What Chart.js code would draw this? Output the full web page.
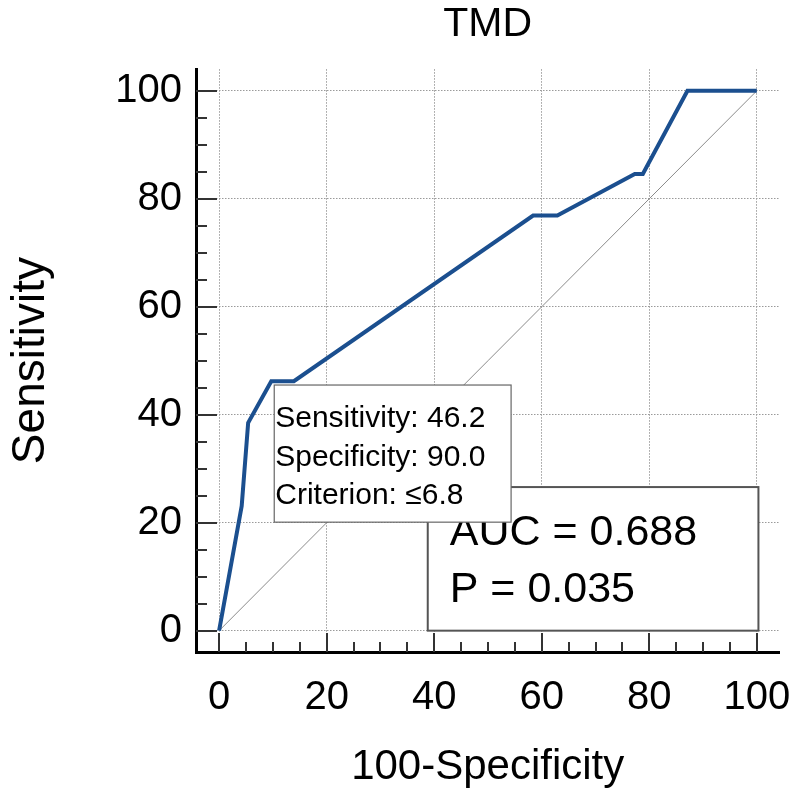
<!DOCTYPE html>
<html>
<head>
<meta charset="utf-8">
<script src="https://cdn.jsdelivr.net/npm/chart.js@4.4.1/dist/chart.umd.min.js"></script>
<style>
  html, body { margin: 0; padding: 0; background: #fff; }
  #wrap { width: 795px; height: 791px; }
</style>
</head>
<body>
<div id="wrap"><canvas id="roc"></canvas></div>
<script>
// ROC curve values
var fpr = [0, 4.2, 5.4, 9.7, 13.9, 58.4, 62.9, 77.3, 78.8, 87.1, 100];
var sens = [0, 23.1, 38.5, 46.2, 46.2, 76.9, 76.9, 84.6, 84.6, 100, 100];
var diagX = [0, 100];
var diagY = [0, 100];
var xTicks = [0, 20, 40, 60, 80, 100];
var yTicks = [0, 20, 40, 60, 80, 100];
var minorStep = 5;
var cutoffLines = ['Sensitivity: 46.2', 'Specificity: 90.0', 'Criterion: \u22646.8'];
var statLines = ['AUC = 0.688', 'P = 0.035'];

var FONT = '"Liberation Sans", Arial, sans-serif';

function pts(xs, ys) {
  return xs.map(function (x, i) { return { x: x, y: ys[i] }; });
}

// inward tick marks + the two text boxes
var extras = {
  id: 'extras',
  afterDraw: function (chart) {
    var ctx = chart.ctx, xs = chart.scales.x, ys = chart.scales.y;
    var a = chart.chartArea;
    ctx.save();
    ctx.strokeStyle = '#333';
    ctx.lineWidth = 2;
    for (var v = 0; v <= 100; v += minorStep) {
      var py = Math.round(ys.getPixelForValue(v));
      var len = (v % 20 === 0) ? 21 : 11;
      ctx.beginPath(); ctx.moveTo(a.left, py); ctx.lineTo(a.left + len, py); ctx.stroke();
      var px = Math.round(xs.getPixelForValue(v));
      var lenx = (v % 20 === 0) ? 19 : 10;
      ctx.beginPath(); ctx.moveTo(px, a.bottom); ctx.lineTo(px, a.bottom - lenx); ctx.stroke();
    }

    // AUC box
    var bx1 = xs.getPixelForValue(38.8), bx2 = xs.getPixelForValue(100.3);
    var by1 = ys.getPixelForValue(26.6), by2 = ys.getPixelForValue(0);
    ctx.fillStyle = '#fff';
    ctx.fillRect(bx1, by1, bx2 - bx1, by2 - by1);
    ctx.strokeStyle = '#555';
    ctx.lineWidth = 2;
    ctx.strokeRect(bx1, by1, bx2 - bx1, by2 - by1);
    ctx.fillStyle = '#000';
    ctx.font = '43px ' + FONT;
    ctx.textBaseline = 'alphabetic';
    ctx.textAlign = 'left';
    ctx.fillText(statLines[0], bx1 + 22, by1 + 58);
    ctx.fillText(statLines[1], bx1 + 22, by1 + 115);

    // cutoff box
    var tx1 = xs.getPixelForValue(10.25), tx2 = xs.getPixelForValue(54.3);
    var ty1 = ys.getPixelForValue(45.5), ty2 = ys.getPixelForValue(20.1);
    ctx.fillStyle = '#fff';
    ctx.fillRect(tx1, ty1, tx2 - tx1, ty2 - ty1);
    ctx.strokeStyle = '#666';
    ctx.lineWidth = 1.2;
    ctx.strokeRect(tx1, ty1, tx2 - tx1, ty2 - ty1);
    ctx.fillStyle = '#000';
    ctx.font = '30px ' + FONT;
    for (var i = 0; i < cutoffLines.length; i++) {
      ctx.fillText(cutoffLines[i], tx1 + 1, ty1 + 42 + i * 38.5);
    }
    ctx.restore();
  }
};

var chart = new Chart(document.getElementById('roc'), {
  type: 'scatter',
  data: {
    datasets: [{
      label: 'ROC',
      data: pts(fpr, sens),
      showLine: true,
      borderColor: '#1b4f8f',
      borderWidth: 4,
      pointRadius: 0,
      order: 1
    }, {
      label: 'ref',
      data: pts(diagX, diagY),
      showLine: true,
      borderColor: '#8a8a8a',
      borderWidth: 1,
      pointRadius: 0,
      order: 2
    }]
  },
  options: {
    responsive: true,
    maintainAspectRatio: false,
    animation: false,
    layout: { padding: { left: 0, right: 15.6, top: 0, bottom: 0 } },
    plugins: {
      legend: { display: false },
      tooltip: { enabled: false },
      title: {
        display: true,
        text: 'TMD',
        fullSize: false,
        color: '#000',
        font: { family: FONT, size: 41, weight: 'normal', lineHeight: 1.2 },
        padding: { top: 0, bottom: 20 }
      }
    },
    scales: {
      x: {
        type: 'linear',
        min: -4.3,
        max: 104.2,
        afterFit: function (s) { s.height = 139; s.paddingLeft = 0; s.paddingRight = 0; },
        afterBuildTicks: function (s) { s.ticks = xTicks.map(function (v) { return { value: v }; }); },
        border: { display: true, color: '#000', width: 3, dash: [1.5, 1.5] },
        grid: { color: '#9a9a9a', lineWidth: 1, drawTicks: false },
        ticks: { color: '#000', padding: 22, font: { family: FONT, size: 40 }, maxRotation: 0, autoSkip: false },
        title: {
          display: true,
          text: '100-Specificity',
          color: '#000',
          font: { family: FONT, size: 42, lineHeight: 1.14 },
          padding: 0
        }
      },
      y: {
        type: 'linear',
        min: -3.95,
        max: 104,
        afterFit: function (s) { s.width = 196; s.paddingTop = 0; s.paddingBottom = 0; },
        afterBuildTicks: function (s) { s.ticks = yTicks.map(function (v) { return { value: v }; }); },
        border: { display: true, color: '#000', width: 3, dash: [1.5, 1.5] },
        grid: { color: '#9a9a9a', lineWidth: 1, drawTicks: false },
        ticks: { color: '#000', padding: 14, font: { family: FONT, size: 40 }, autoSkip: false },
        title: {
          display: true,
          text: 'Sensitivity',
          color: '#000',
          font: { family: FONT, size: 46, lineHeight: 1 },
          padding: { top: 8, bottom: 0 }
        }
      }
    }
  },
  plugins: [extras]
});
</script>
</body>
</html>
